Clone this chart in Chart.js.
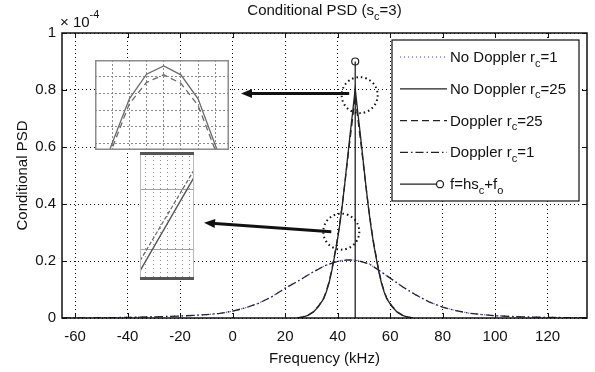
<!DOCTYPE html>
<html>
<head>
<meta charset="utf-8">
<script src="https://cdn.jsdelivr.net/npm/chart.js@4/dist/chart.umd.min.js"></script>
<style>
  body { margin: 0; background: #fff; }
  #wrap { position: relative; width: 595px; height: 372px; }
  #wrap canvas { position: absolute; }
  #psdChart { left: 0; top: 0; }
  #inset1 { left: 95px; top: 60px; background: #fff; }
  #inset2 { left: 140px; top: 152px; background: #fff; }
</style>
</head>
<body>
<div id="wrap">
  <canvas id="psdChart" width="595" height="372"></canvas>
  <canvas id="inset1" width="134" height="90"></canvas>
  <canvas id="inset2" width="54" height="128"></canvas>
</div>
<script>
const FONT = "'Liberation Sans', Arial, sans-serif";

// axis ticks
const xTicks = [-60, -40, -20, 0, 20, 40, 60, 80, 100, 120];
const yTicks = [0, 0.2, 0.4, 0.6, 0.8, 1];
const yTickLabels = ['0', '0.2', '0.4', '0.6', '0.8', '1'];

// broad curves (r_c = 1), values in units of 1e-4
const freqWide = [-65, -50, -40, -30, -20, -15, -10, -5, 0, 5, 10, 15, 20, 25, 30, 35, 40, 44, 48, 52, 56, 60, 65, 70, 75, 80, 85, 90, 95, 100, 110, 120, 135];
const psdNoDopplerRc1 = [0.000, 0.001, 0.002, 0.004, 0.007, 0.009, 0.012, 0.016, 0.024, 0.036, 0.052, 0.075, 0.105, 0.130, 0.158, 0.183, 0.200, 0.205, 0.202, 0.190, 0.166, 0.140, 0.108, 0.080, 0.056, 0.038, 0.026, 0.017, 0.012, 0.008, 0.004, 0.002, 0.001];
const psdDopplerRc1 = [0.000, 0.001, 0.002, 0.004, 0.007, 0.009, 0.012, 0.016, 0.024, 0.036, 0.052, 0.075, 0.104, 0.130, 0.158, 0.183, 0.199, 0.204, 0.201, 0.190, 0.166, 0.140, 0.108, 0.080, 0.056, 0.038, 0.026, 0.017, 0.012, 0.008, 0.004, 0.002, 0.001];

// narrow curves (r_c = 25)
const freqNarrow = [24.7, 26.7, 28.7, 30.7, 32.7, 34.7, 35.7, 36.7, 37.7, 38.7, 39.7, 40.7, 41.7, 42.7, 43.7, 44.7, 45.7, 46.7, 47.7, 48.7, 49.7, 50.7, 51.7, 52.7, 53.7, 54.7, 55.7, 56.7, 57.7, 58.7, 60.7, 62.7, 64.7, 66.7, 68.7];
const psdNoDopplerRc25 = [0, 0.003, 0.009, 0.020, 0.040, 0.068, 0.092, 0.122, 0.162, 0.210, 0.260, 0.320, 0.390, 0.470, 0.555, 0.640, 0.720, 0.805, 0.720, 0.640, 0.555, 0.470, 0.390, 0.320, 0.260, 0.210, 0.162, 0.122, 0.092, 0.068, 0.040, 0.020, 0.009, 0.003, 0];
const psdDopplerRc25 = [0, 0.004, 0.010, 0.022, 0.042, 0.070, 0.095, 0.126, 0.166, 0.215, 0.265, 0.325, 0.393, 0.468, 0.548, 0.625, 0.700, 0.780, 0.700, 0.625, 0.548, 0.468, 0.393, 0.325, 0.265, 0.215, 0.166, 0.126, 0.095, 0.070, 0.042, 0.022, 0.010, 0.004, 0];

// f = h*s_c + f_o marker line
const freqMarker = [46.7, 46.7];
const psdMarker = [0, 0.9];

// callouts (data units)
const calloutCircles = [[48.4, 0.782], [41.4, 0.303]];
const calloutArrows = [[44.4, 0.788, 3.2, 0.788], [37.6, 0.303, -10.9, 0.334]];

// zoomed insets
const zoomPeakX = [-4, -3, -2, -1, 0, 1, 2, 3, 4];
const zoomPeakNoDoppler = [-2.7, 0.0, 2.67, 4.15, 4.64, 4.11, 2.67, -0.1, -2.8];
const zoomPeakDoppler = [-3.0, -0.29, 2.37, 3.66, 4.11, 3.6, 2.27, -0.4, -3.0];
const zoomPeakGridX = [-3, -2, -1, 0, 1, 2, 3];
const zoomPeakGridY = [0, 1, 2, 3, 4];
const zoomEdgeX = [-0.8, 6.6];
const zoomEdgeNoDoppler = [0.65, 2.21];
const zoomEdgeDoppler = [0.82, 2.33];
const zoomEdgeGridX = [0, 1, 2, 3, 4, 5, 6];
const zoomEdgeGridY = [1, 2];

const legendItems = [
  { text: [['No Doppler r', ''], ['c', 'sub'], ['=1', '']], color: '#3a3aff', dash: [1, 3] },
  { text: [['No Doppler r', ''], ['c', 'sub'], ['=25', '']], color: '#222', dash: [] },
  { text: [['Doppler r', ''], ['c', 'sub'], ['=25', '']], color: '#222', dash: [7, 4] },
  { text: [['Doppler r', ''], ['c', 'sub'], ['=1', '']], color: '#222', dash: [8, 3, 1.5, 3] },
  { text: [['f=hs', ''], ['c', 'sub'], ['+f', ''], ['o', 'sub']], color: '#222', dash: [], marker: true }
];

const toPoints = (xs, ys) => xs.map((x, i) => ({ x, y: ys[i] }));

function richText(ctx, parts, x, y, align, size) {
  const fontFor = k => (k ? Math.round(size * 0.72) : size) + 'px ' + FONT;
  let w = 0;
  parts.forEach(([t, k]) => { ctx.font = fontFor(k); w += ctx.measureText(t).width; });
  let cx = align === 'center' ? x - w / 2 : x;
  ctx.textAlign = 'left';
  ctx.textBaseline = 'alphabetic';
  parts.forEach(([t, k]) => {
    ctx.font = fontFor(k);
    const dy = k === 'sub' ? size * 0.3 : k === 'sup' ? -size * 0.6 : 0;
    ctx.fillText(t, cx, y + dy);
    cx += ctx.measureText(t).width;
  });
}

function drawArrow(ctx, x1, y1, x2, y2) {
  const a = Math.atan2(y2 - y1, x2 - x1);
  const head = 11, half = 4.5;
  const bx = x2 - head * Math.cos(a), by = y2 - head * Math.sin(a);
  ctx.lineWidth = 3;
  ctx.beginPath(); ctx.moveTo(x1, y1); ctx.lineTo(bx, by); ctx.stroke();
  ctx.beginPath();
  ctx.moveTo(x2, y2);
  ctx.lineTo(bx - half * Math.sin(a), by + half * Math.cos(a));
  ctx.lineTo(bx + half * Math.sin(a), by - half * Math.cos(a));
  ctx.closePath(); ctx.fill();
}

const decor = {
  id: 'decor',
  beforeDraw(chart) {
    const ctx = chart.ctx;
    ctx.save(); ctx.fillStyle = '#fff'; ctx.fillRect(0, 0, chart.width, chart.height); ctx.restore();
  },
  afterDatasetsDraw(chart) {
    const { ctx, chartArea: ca, scales: { x, y } } = chart;
    ctx.save();
    ctx.strokeStyle = '#111'; ctx.fillStyle = '#111';
    // inward ticks
    ctx.lineWidth = 1;
    ctx.beginPath();
    xTicks.forEach(v => {
      const px = Math.round(x.getPixelForValue(v)) + 0.5;
      ctx.moveTo(px, ca.bottom); ctx.lineTo(px, ca.bottom - 5);
      ctx.moveTo(px, ca.top); ctx.lineTo(px, ca.top + 5);
    });
    yTicks.forEach(v => {
      const py = Math.round(y.getPixelForValue(v)) + 0.5;
      ctx.moveTo(ca.left, py); ctx.lineTo(ca.left + 5, py);
      ctx.moveTo(ca.right, py); ctx.lineTo(ca.right - 5, py);
    });
    ctx.stroke();
    // frame
    ctx.lineWidth = 1.5;
    ctx.strokeRect(ca.left, ca.top, ca.right - ca.left, ca.bottom - ca.top);
    // dotted circles
    ctx.lineWidth = 2;
    ctx.setLineDash([1.5, 3]);
    calloutCircles.forEach(([cx, cy]) => {
      ctx.beginPath();
      ctx.arc(x.getPixelForValue(cx), y.getPixelForValue(cy), 18, 0, Math.PI * 2);
      ctx.stroke();
    });
    ctx.setLineDash([]);
    calloutArrows.forEach(([x1, y1, x2, y2]) => {
      drawArrow(ctx, x.getPixelForValue(x1), y.getPixelForValue(y1), x.getPixelForValue(x2), y.getPixelForValue(y2));
    });
    // legend
    const lx = ca.right - 195, ly = ca.top + 7, lw = 187, lh = 161;
    ctx.fillStyle = '#fff';
    ctx.fillRect(lx, ly, lw, lh);
    ctx.lineWidth = 1.2; ctx.strokeStyle = '#111';
    ctx.strokeRect(lx, ly, lw, lh);
    legendItems.forEach((item, i) => {
      const rowY = ly + 17 + i * 31.8;
      ctx.strokeStyle = item.color;
      ctx.lineWidth = item.color === '#222' ? 1.3 : 1.2;
      ctx.setLineDash(item.dash);
      ctx.beginPath();
      ctx.moveTo(lx + 8, rowY);
      ctx.lineTo(lx + (item.marker ? 44 : 55), rowY);
      ctx.stroke();
      ctx.setLineDash([]);
      if (item.marker) {
        ctx.beginPath(); ctx.arc(lx + 48, rowY, 3.5, 0, Math.PI * 2); ctx.stroke();
      }
      ctx.fillStyle = '#111';
      richText(ctx, item.text, lx + 58, rowY + 5, 'left', 15);
    });
    ctx.restore();
  },
  afterDraw(chart) {
    const { ctx, chartArea: ca } = chart;
    ctx.save();
    ctx.fillStyle = '#111';
    richText(ctx, [['Conditional PSD (s', ''], ['c', 'sub'], ['=3)', '']], (ca.left + ca.right) / 2, 15, 'center', 15);
    richText(ctx, [['\u00d7 10', ''], ['-4', 'sup']], ca.left - 2, ca.top - 6, 'left', 15);
    ctx.restore();
  }
};

const lineDefaults = { showLine: true, pointRadius: 0, borderWidth: 1.3, fill: false, tension: 0 };

new Chart(document.getElementById('psdChart'), {
  type: 'scatter',
  data: {
    datasets: [
      Object.assign({}, lineDefaults, { data: toPoints(freqMarker, psdMarker), borderColor: '#222', pointRadius: [0, 3.5], pointBorderColor: '#222', pointBackgroundColor: 'rgba(0,0,0,0)', pointBorderWidth: 1.2 }),
      Object.assign({}, lineDefaults, { data: toPoints(freqNarrow, psdNoDopplerRc25), borderColor: '#222' }),
      Object.assign({}, lineDefaults, { data: toPoints(freqNarrow, psdDopplerRc25), borderColor: '#222', borderDash: [7, 4] }),
      Object.assign({}, lineDefaults, { data: toPoints(freqWide, psdDopplerRc1), borderColor: '#222', borderDash: [8, 3, 1.5, 3] }),
      Object.assign({}, lineDefaults, { data: toPoints(freqWide, psdNoDopplerRc1), borderColor: '#3a3aff', borderWidth: 1.2, borderDash: [1, 3] })
    ]
  },
  options: {
    responsive: false,
    animation: false,
    events: [],
    layout: { padding: { top: 33, right: 8, left: 0, bottom: 0 } },
    plugins: { legend: { display: false }, tooltip: { enabled: false } },
    scales: {
      x: {
        type: 'linear', min: -65, max: 135,
        afterBuildTicks: s => { s.ticks = xTicks.map(v => ({ value: v })); },
        afterFit: s => { s.height = 54; },
        ticks: { font: { size: 15, family: FONT }, color: '#111', padding: 10, maxRotation: 0, autoSkip: false },
        grid: { color: '#111', lineWidth: 1, drawTicks: false },
        border: { display: false, dash: [1, 3] },
        title: { display: true, text: 'Frequency (kHz)', font: { size: 15, family: FONT }, color: '#111', padding: { top: 0, bottom: 4 } }
      },
      y: {
        type: 'linear', min: 0, max: 1,
        afterBuildTicks: s => { s.ticks = yTicks.map(v => ({ value: v })); },
        afterFit: s => { s.width = 62; },
        ticks: { font: { size: 15, family: FONT }, color: '#111', padding: 6, callback: (v, i) => yTickLabels[i] },
        grid: { color: '#111', lineWidth: 1, drawTicks: false },
        border: { display: false, dash: [1, 3] },
        title: { display: true, text: 'Conditional PSD', font: { size: 15, family: FONT }, color: '#111', padding: { top: 14, bottom: 0 } }
      }
    }
  },
  plugins: [decor]
});

function insetFrame(sideColor, sideWidth, capColor, capWidth) {
  return {
    id: 'insetFrame',
    afterDraw(chart) {
      const { ctx, chartArea: ca } = chart;
      ctx.save();
      ctx.strokeStyle = sideColor; ctx.lineWidth = sideWidth;
      ctx.beginPath();
      ctx.moveTo(ca.left + sideWidth / 2, ca.top); ctx.lineTo(ca.left + sideWidth / 2, ca.bottom);
      ctx.moveTo(ca.right - sideWidth / 2, ca.top); ctx.lineTo(ca.right - sideWidth / 2, ca.bottom);
      ctx.stroke();
      ctx.strokeStyle = capColor; ctx.lineWidth = capWidth;
      ctx.beginPath();
      ctx.moveTo(ca.left, ca.top + capWidth / 2); ctx.lineTo(ca.right, ca.top + capWidth / 2);
      ctx.moveTo(ca.left, ca.bottom - capWidth / 2); ctx.lineTo(ca.right, ca.bottom - capWidth / 2);
      ctx.stroke();
      ctx.restore();
    }
  };
}

function insetScale(min, max, grid, color, dash) {
  return {
    type: 'linear', min, max,
    afterBuildTicks: s => { s.ticks = grid.map(v => ({ value: v })); },
    ticks: { display: false },
    grid: { color, lineWidth: 1, drawTicks: false },
    border: { display: false, dash }
  };
}

const insetOptions = (xs, ys) => ({
  responsive: false,
  animation: false,
  events: [],
  layout: { padding: 0 },
  plugins: { legend: { display: false }, tooltip: { enabled: false } },
  scales: { x: xs, y: ys }
});

new Chart(document.getElementById('inset1'), {
  type: 'scatter',
  data: {
    datasets: [
      Object.assign({}, lineDefaults, { data: toPoints(zoomPeakX, zoomPeakNoDoppler), borderColor: '#6a6a6a' }),
      Object.assign({}, lineDefaults, { data: toPoints(zoomPeakX, zoomPeakDoppler), borderColor: '#6a6a6a', borderDash: [6, 4] })
    ]
  },
  options: insetOptions(
    insetScale(-4, 3.8, zoomPeakGridX, '#8a8a8a', [2, 2]),
    insetScale(-0.4, 5, zoomPeakGridY, '#8a8a8a', [2, 2])
  ),
  plugins: [insetFrame('#8c8c8c', 1.5, '#8c8c8c', 1.5)]
});

new Chart(document.getElementById('inset2'), {
  type: 'scatter',
  data: {
    datasets: [
      Object.assign({}, lineDefaults, { data: toPoints(zoomEdgeX, zoomEdgeNoDoppler), borderColor: '#555', borderWidth: 1.4 }),
      Object.assign({}, lineDefaults, { data: toPoints(zoomEdgeX, zoomEdgeDoppler), borderColor: '#666', borderWidth: 1.2, borderDash: [4, 2] })
    ]
  },
  options: insetOptions(
    insetScale(-0.8, 6.6, zoomEdgeGridX, '#909090', [1, 3]),
    insetScale(0.5, 2.63, zoomEdgeGridY, '#a0a0a0', [])
  ),
  plugins: [insetFrame('#bbbbbb', 1, '#555555', 3)]
});
</script>
</body>
</html>
